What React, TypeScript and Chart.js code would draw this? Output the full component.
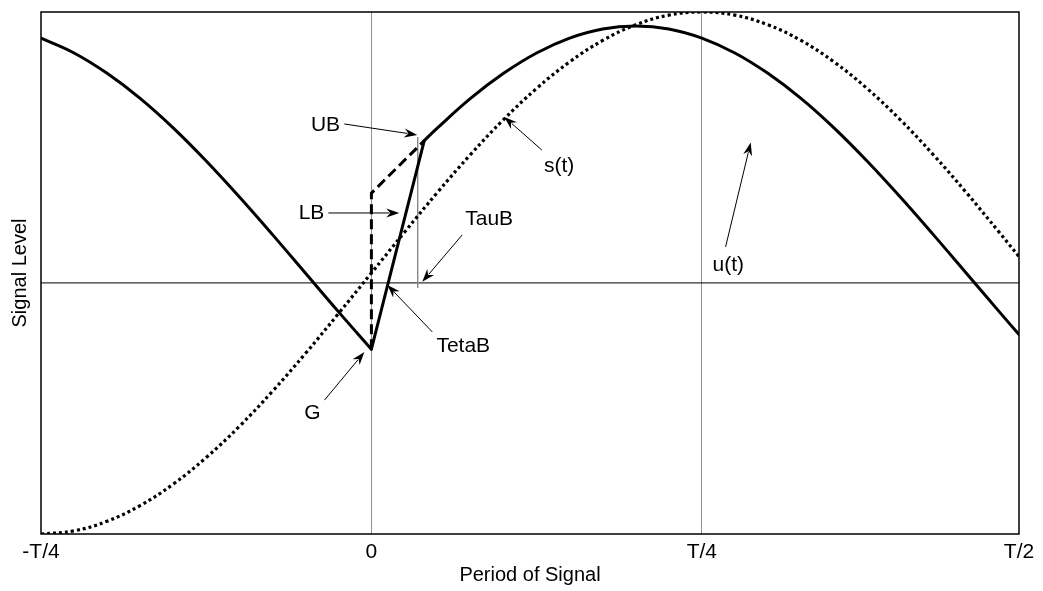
import React, { useEffect, useRef } from "react";
import { Chart, registerables } from "chart.js";

Chart.register(...registerables);

// ---- axis ----
const X_MIN = -0.25;
const X_MAX = 0.49;
const Y_MIN = -1;
const Y_MAX = 1;
const tickValues = [-0.25, 0, 0.25, 0.49];
const tickLabels = ["-T/4", "0", "T/4", "T/2"];
const gridValues = [0, 0.25];

// ---- s(t): dotted reference signal ----
const sTimes = [
  -0.25, -0.225, -0.2, -0.175, -0.15, -0.125, -0.1, -0.075, -0.05, -0.025, 0,
  0.025, 0.05, 0.075, 0.1, 0.125, 0.15, 0.175, 0.2, 0.225, 0.25, 0.275, 0.3,
  0.325, 0.35, 0.375, 0.4, 0.425, 0.45, 0.475, 0.49,
];
const sValues = [
  -1, -0.988, -0.951, -0.891, -0.809, -0.707, -0.588, -0.454, -0.309, -0.156, 0,
  0.156, 0.309, 0.454, 0.588, 0.707, 0.809, 0.891, 0.951, 0.988, 1, 0.988, 0.951,
  0.891, 0.809, 0.707, 0.588, 0.454, 0.309, 0.156, 0.063,
];

// ---- u(t): solid signal, before the jump ----
const uLeftTimes = [-0.25, -0.225, -0.2, -0.175, -0.15, -0.125, -0.1, -0.075, -0.05, -0.025, 0];
const uLeftValues = [0.9, 0.843, 0.765, 0.669, 0.556, 0.429, 0.292, 0.148, 0, -0.148, -0.292];

// ---- u(t): the steep rise G -> UB ----
const uRiseTimes = [0, 0.04];
const uRiseValues = [-0.292, 0.507];

// ---- u(t): after UB ----
const uRightTimes = [
  0.04, 0.05, 0.075, 0.1, 0.125, 0.15, 0.175, 0.2, 0.225, 0.25, 0.275, 0.3, 0.325,
  0.35, 0.375, 0.4, 0.425, 0.45, 0.475, 0.49,
];
const uRightValues = [
  0.507, 0.556, 0.669, 0.765, 0.843, 0.9, 0.935, 0.946, 0.935, 0.9, 0.843, 0.765,
  0.669, 0.556, 0.429, 0.292, 0.148, 0, -0.148, -0.236,
];

// ---- dashed bound ----
const boundTimes = [0, 0, 0.04];
const boundValues = [-0.292, 0.306, 0.507];

// ---- TauB marker ----
const tauTimes = [0.035, 0.035];
const tauValues = [0.52, -0.057];

// ---- horizontal reference level ----
const refTimes = [X_MIN, X_MAX];
const refValues = [-0.038, -0.038];

// ---- annotations (data coordinates) ----
const labels = [
  { text: "UB", x: -0.0347, y: 0.567, ax: -0.0205, ay: 0.571, bx: 0.0347, by: 0.529 },
  { text: "LB", x: -0.0453, y: 0.23, ax: -0.0326, ay: 0.23, bx: 0.0211, by: 0.23 },
  { text: "TauB", x: 0.0891, y: 0.207, ax: 0.0687, ay: 0.146, bx: 0.0385, by: -0.034 },
  { text: "TetaB", x: 0.0695, y: -0.28, ax: 0.0461, ay: -0.226, bx: 0.0121, by: -0.046 },
  { text: "G", x: -0.0446, y: -0.536, ax: -0.0355, ay: -0.487, bx: -0.0053, by: -0.303 },
  { text: "s(t)", x: 0.142, y: 0.41, ax: 0.129, ay: 0.471, bx: 0.1005, by: 0.598 },
  { text: "u(t)", x: 0.27, y: 0.03, ax: 0.268, ay: 0.1, bx: 0.287, by: 0.5 },
];

const FONT = "'Liberation Sans', Arial, sans-serif";

const pts = (xs: number[], ys: number[]) => xs.map((x, i) => ({ x, y: ys[i] }));

const annotationPlugin = {
  id: "annot",
  afterDatasetsDraw(chart: any) {
    const { ctx, chartArea, scales } = chart;
    const xs = scales.x;
    const ys = scales.y;
    ctx.save();
    ctx.strokeStyle = "#000";
    ctx.lineWidth = 1.5;
    ctx.strokeRect(chartArea.left, chartArea.top, chartArea.right - chartArea.left, chartArea.bottom - chartArea.top);

    ctx.font = `21px ${FONT}`;
    ctx.fillStyle = "#000";
    ctx.textAlign = "center";
    ctx.textBaseline = "middle";
    for (const l of labels) {
      const tx = xs.getPixelForValue(l.x);
      const ty = ys.getPixelForValue(l.y);
      ctx.fillText(l.text, tx, ty);
      const x1 = xs.getPixelForValue(l.ax);
      const y1 = ys.getPixelForValue(l.ay);
      const x2 = xs.getPixelForValue(l.bx);
      const y2 = ys.getPixelForValue(l.by);
      const ang = Math.atan2(y2 - y1, x2 - x1);
      const len = 13;
      const wid = 4.5;
      const bx = x2 - len * Math.cos(ang);
      const by = y2 - len * Math.sin(ang);
      ctx.strokeStyle = "#000";
      ctx.lineWidth = 1;
      ctx.beginPath();
      ctx.moveTo(x1, y1);
      ctx.lineTo(bx + 3 * Math.cos(ang), by + 3 * Math.sin(ang));
      ctx.stroke();
      const nx = -Math.sin(ang);
      const ny = Math.cos(ang);
      ctx.beginPath();
      ctx.moveTo(x2, y2);
      ctx.lineTo(bx + nx * wid, by + ny * wid);
      ctx.lineTo(bx + 4 * Math.cos(ang), by + 4 * Math.sin(ang));
      ctx.lineTo(bx - nx * wid, by - ny * wid);
      ctx.closePath();
      ctx.fill();
    }
    ctx.restore();
  },
};

export default function App() {
  const ref = useRef<HTMLCanvasElement | null>(null);
  useEffect(() => {
    if (!ref.current) return;
    Chart.defaults.font.family = FONT;
    const black = "#000";
    const chart = new Chart(ref.current, {
      type: "line",
      data: {
        datasets: [
          { data: pts(uLeftTimes, uLeftValues), borderColor: black, borderWidth: 3, pointRadius: 0, tension: 0.4, borderCapStyle: "round" },
          { data: pts(uRiseTimes, uRiseValues), borderColor: black, borderWidth: 3, pointRadius: 0, tension: 0, borderCapStyle: "round" },
          { data: pts(uRightTimes, uRightValues), borderColor: black, borderWidth: 3, pointRadius: 0, tension: 0.4, borderCapStyle: "round" },
          { data: pts(sTimes, sValues), borderColor: black, borderWidth: 3.2, borderDash: [3, 3], pointRadius: 0, tension: 0.4 },
          { data: pts(boundTimes, boundValues), borderColor: black, borderWidth: 3, borderDash: [10, 5], pointRadius: 0, tension: 0 },
          { data: pts(tauTimes, tauValues), borderColor: "#888", borderWidth: 1, pointRadius: 0, tension: 0 },
          { data: pts(refTimes, refValues), borderColor: black, borderWidth: 1, pointRadius: 0, tension: 0 },
        ],
      },
      options: {
        animation: false,
        responsive: false,
        parsing: false as any,
        layout: { padding: { top: 12, right: 24, left: 0, bottom: 0 } },
        plugins: { legend: { display: false }, tooltip: { enabled: false } },
        scales: {
          x: {
            type: "linear",
            min: X_MIN,
            max: X_MAX,
            afterBuildTicks: (scale: any) => {
              scale.ticks = tickValues.map((v) => ({ value: v }));
            },
            afterFit: (scale: any) => {
              scale.height = 57;
            },
            ticks: {
              autoSkip: false,
              maxRotation: 0,
              padding: 6,
              color: black,
              font: { size: 21, family: FONT },
              callback: (_v: any, i: number) => tickLabels[i],
            },
            grid: {
              drawTicks: false,
              lineWidth: 1,
              color: (c: any) =>
                c.tick && gridValues.includes(c.tick.value) ? "#909090" : "rgba(0,0,0,0)",
            },
            border: { display: false },
            title: {
              display: true,
              text: "Period of Signal",
              color: black,
              font: { size: 20, family: FONT },
              padding: { top: 0, bottom: 4 },
            },
          },
          y: {
            type: "linear",
            min: Y_MIN,
            max: Y_MAX,
            afterFit: (scale: any) => {
              scale.width = 41;
            },
            ticks: { display: false },
            grid: { display: false },
            border: { display: false },
            title: {
              display: true,
              text: "Signal Level",
              color: black,
              font: { size: 20, family: FONT },
              padding: { top: 8, bottom: 0 },
            },
          },
        },
      },
      plugins: [annotationPlugin],
    });
    return () => chart.destroy();
  }, []);
  return (
    <div style={{ position: "absolute", left: 0, top: 0, width: 1043, height: 591, background: "#fff" }}>
      <canvas ref={ref} width={1043} height={591} style={{ width: 1043, height: 591 }} />
    </div>
  );
}
